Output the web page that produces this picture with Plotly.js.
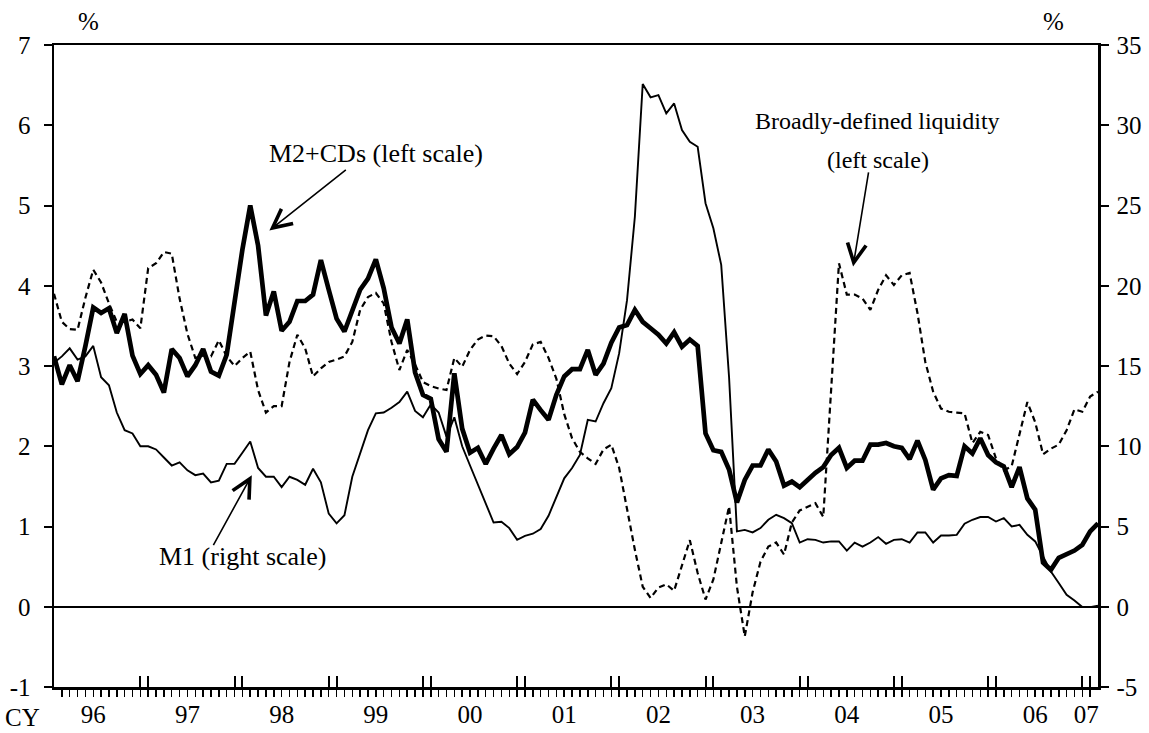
<!DOCTYPE html>
<html><head><meta charset="utf-8">
<script src="https://cdn.plot.ly/plotly-3.0.1.min.js"></script>
<style>html,body{margin:0;padding:0;background:#fff}</style>
</head><body><div id="chart" style="width:1149px;height:733px"></div>
<script>
// Monthly data, Jan 1996 .. Feb 2007 (year-on-year % change)
const m2cds = [
  3.12, 2.77, 3.01, 2.81, 3.25, 3.73, 3.66, 3.72, 3.41, 3.65, 3.13, 2.90,
  3.01, 2.89, 2.67, 3.21, 3.10, 2.87, 3.01, 3.21, 2.93, 2.88, 3.14, 3.80,
  4.45, 5.00, 4.50, 3.63, 3.93, 3.44, 3.55, 3.81, 3.81, 3.89, 4.32, 3.95,
  3.59, 3.43, 3.70, 3.95, 4.09, 4.33, 3.97, 3.48, 3.28, 3.58, 2.92, 2.64,
  2.59, 2.09, 1.93, 2.91, 2.22, 1.92, 1.98, 1.78, 1.97, 2.14, 1.90, 1.99,
  2.17, 2.58, 2.45, 2.33, 2.64, 2.87, 2.96, 2.96, 3.20, 2.89, 3.03, 3.29,
  3.48, 3.51, 3.70, 3.55, 3.47, 3.39, 3.28, 3.42, 3.24, 3.33, 3.25, 2.16,
  1.95, 1.93, 1.71, 1.30, 1.58, 1.76, 1.76, 1.96, 1.81, 1.51, 1.56, 1.49,
  1.58, 1.67, 1.74, 1.89, 1.98, 1.73, 1.82, 1.82, 2.02, 2.02, 2.04, 2.00,
  1.98, 1.84, 2.07, 1.83, 1.46, 1.60, 1.64, 1.63, 2.00, 1.91, 2.10, 1.89,
  1.80, 1.75, 1.49, 1.74, 1.35, 1.21, 0.55, 0.46, 0.61, 0.65, 0.70, 0.77,
  0.94, 1.04
];
const m1 = [
  15.2, 15.6, 16.1, 15.4, 15.6, 16.25, 14.3, 13.8, 12.1, 11.0, 10.8, 10.0,
  10.0, 9.8, 9.3, 8.8, 9.0, 8.5, 8.2, 8.3, 7.75, 7.85, 8.9, 8.9,
  9.6, 10.3, 8.65, 8.1, 8.1, 7.45, 8.1, 7.9, 7.6, 8.6, 7.75, 5.8,
  5.2, 5.7, 8.1, 9.6, 11.0, 12.05, 12.1, 12.4, 12.75, 13.4, 12.2, 11.8,
  12.6, 12.1, 10.6, 11.8, 10.0, 8.8, 7.6, 6.4, 5.25, 5.3, 4.9, 4.17,
  4.42, 4.55, 4.84, 5.67, 6.87, 8.0, 8.64, 9.46, 11.64, 11.54, 12.68, 13.62,
  15.8, 19.1, 24.3, 32.57, 31.74, 31.88, 30.74, 31.36, 29.7, 28.97, 28.66, 25.14,
  23.58, 21.3, 14.3, 4.7, 4.79, 4.63, 4.9, 5.42, 5.73, 5.52, 5.21, 4.0,
  4.21, 4.17, 4.0, 4.07, 4.07, 3.5, 4.0, 3.75, 4.0, 4.34, 3.92, 4.17,
  4.21, 4.0, 4.63, 4.63, 4.0, 4.44, 4.44, 4.48, 5.17, 5.42, 5.59, 5.59,
  5.31, 5.52, 5.0, 5.1, 4.48, 4.07, 3.13, 2.2, 1.48, 0.75, 0.39, -0.02,
  -0.02, 0.06
];
const liquidity = [
  3.90, 3.55, 3.46, 3.45, 3.85, 4.20, 4.04, 3.78, 3.55, 3.55, 3.58, 3.47,
  4.22, 4.28, 4.42, 4.40, 3.84, 3.40, 3.10, 3.13, 3.12, 3.32, 3.12, 3.00,
  3.10, 3.18, 2.70, 2.42, 2.50, 2.50, 3.05, 3.39, 3.22, 2.87, 2.97, 3.05,
  3.08, 3.12, 3.30, 3.70, 3.86, 3.91, 3.78, 3.30, 2.95, 3.20, 3.02, 2.80,
  2.75, 2.72, 2.70, 3.10, 2.99, 3.20, 3.33, 3.38, 3.37, 3.25, 3.03, 2.90,
  3.05, 3.27, 3.30, 3.10, 2.84, 2.40, 2.10, 1.93, 1.85, 1.78, 1.96, 2.02,
  1.73, 1.21, 0.71, 0.25, 0.11, 0.24, 0.28, 0.20, 0.53, 0.83, 0.42, 0.09,
  0.34, 0.80, 1.25, 0.25, -0.37, 0.18, 0.56, 0.75, 0.80, 0.65, 1.05, 1.20,
  1.25, 1.29, 1.12, 2.75, 4.28, 3.89, 3.89, 3.84, 3.70, 3.95, 4.13, 4.01,
  4.13, 4.16, 3.66, 3.05, 2.68, 2.47, 2.43, 2.42, 2.41, 2.04, 2.18, 2.14,
  1.85, 1.70, 1.75, 2.15, 2.55, 2.30, 1.90, 1.97, 2.02, 2.20, 2.46, 2.43,
  2.62, 2.68
];
const yearLabels = ['96','97','98','99','00','01','02','03','04','05','06','07'];
const yearLabelPos = [5, 17, 29, 41, 53, 65, 77, 89, 101, 113, 125, 131.5];
const yearBoundaryTicks = [11,12, 23,24, 35,36, 47,48, 59,60, 71,72, 83,84, 95,96, 107,108, 119,120, 131,132];
const leftTicks = [-1, 0, 1, 2, 3, 4, 5, 6, 7];
const leftTickText = ['-1','0','1','2','3','4','5','6','7'];
const rightTicks = [-5, 0, 5, 10, 15, 20, 25, 30, 35];
const rightTickText = ['-5','0','5','10','15','20','25','30','35'];

const months = m2cds.map((_, i) => i);
const FONT = 'Liberation Serif, Times New Roman, serif';
const FS = 25;   // tick labels
const AFS = 26;  // annotation text
const BFS = 24;  // liquidity annotation block

const traces = [
  { x: months, y: liquidity, type: 'scatter', mode: 'lines', name: 'Broadly-defined liquidity',
    line: { color: 'black', width: 2.2, dash: '6px,4px' }, xaxis: 'x', yaxis: 'y' },
  { x: months, y: m2cds, type: 'scatter', mode: 'lines', name: 'M2+CDs',
    line: { color: 'black', width: 4.7 }, xaxis: 'x', yaxis: 'y' },
  { x: months, y: m1, type: 'scatter', mode: 'lines', name: 'M1',
    line: { color: 'black', width: 1.9 }, xaxis: 'x', yaxis: 'y2' },
  { x: [], y: [], type: 'scatter', mode: 'lines', xaxis: 'x2', yaxis: 'y', showlegend: false, hoverinfo: 'skip' }
];

function arrow(hx, hy, tx, ty) {
  return { x: hx, y: hy, xref: 'x', yref: 'y', ax: tx, ay: ty, axref: 'x', ayref: 'y',
    text: '', showarrow: true, arrowhead: 5, arrowsize: 2.3, arrowwidth: 1.6, arrowcolor: 'black',
    standoff: 0, startstandoff: 0, font: { size: 1 } };
}
function label(txt, px, py, size) {
  return { text: txt, x: px, y: py, xref: 'paper', yref: 'paper', showarrow: false,
    xanchor: 'center', yanchor: 'middle', font: { family: FONT, size: size, color: 'black' } };
}

const layout = {
  width: 1149, height: 733,
  margin: { l: 54, r: 51, t: 45, b: 46, pad: 0 },
  paper_bgcolor: 'white', plot_bgcolor: 'white',
  showlegend: false,
  font: { family: FONT, size: FS, color: 'black' },
  xaxis: {
    range: [0, 133], showgrid: false, zeroline: false,
    showline: true, linecolor: 'black', linewidth: 2.5, mirror: true,
    tickmode: 'array', tickvals: yearBoundaryTicks, ticktext: yearBoundaryTicks.map(() => ''),
    ticks: 'inside', ticklen: 11, tickwidth: 2, tickcolor: 'black',
    minor: { tickmode: 'linear', tick0: 0, dtick: 1, ticks: 'outside', ticklen: 7, tickwidth: 1.5, tickcolor: 'black', showgrid: false }
  },
  xaxis2: {
    overlaying: 'x', anchor: 'y', side: 'bottom', range: [0, 133],
    showgrid: false, zeroline: false, showline: false, ticks: '',
    tickmode: 'array', tickvals: yearLabelPos, ticktext: yearLabels,
    tickfont: { family: FONT, size: FS, color: 'black' }, ticklabelstandoff: 10
  },
  yaxis: {
    range: [-1, 7], showgrid: false,
    zeroline: true, zerolinecolor: 'black', zerolinewidth: 2,
    showline: true, linecolor: 'black', linewidth: 2.5,
    tickmode: 'array', tickvals: leftTicks, ticktext: leftTickText,
    ticks: 'outside', ticklen: 8, tickwidth: 2, tickcolor: 'black',
    tickfont: { family: FONT, size: FS, color: 'black' }, ticklabelstandoff: 8
  },
  yaxis2: {
    range: [-5, 35], overlaying: 'y', side: 'right', anchor: 'x', showgrid: false, zeroline: false,
    showline: true, linecolor: 'black', linewidth: 2.5,
    tickmode: 'array', tickvals: rightTicks, ticktext: rightTickText,
    ticks: 'outside', ticklen: 8, tickwidth: 2, tickcolor: 'black',
    tickfont: { family: FONT, size: FS, color: 'black' }, ticklabelstandoff: 3
  },
  annotations: [
    label('%', 0.033, 1.036, FS),
    label('%', 0.957, 1.036, FS),
    label('CY', -0.030, -0.048, FS),
    label('M2+CDs (left scale)', 0.3084, 0.831, AFS),
    label('Broadly-defined liquidity', 0.789, 0.8816, BFS),
    label('(left scale)', 0.789, 0.8209, BFS),
    label('M1 (right scale)', 0.1814, 0.2025, AFS),
    arrow(27.44, 4.69, 37.37, 5.46),
    arrow(101.8, 4.24, 103.8, 5.43),
    arrow(25.2, 1.64, 20.2, 0.75)
  ]
};

Plotly.newPlot('chart', traces, layout, { displayModeBar: false, staticPlot: true });
</script>
</body></html>
